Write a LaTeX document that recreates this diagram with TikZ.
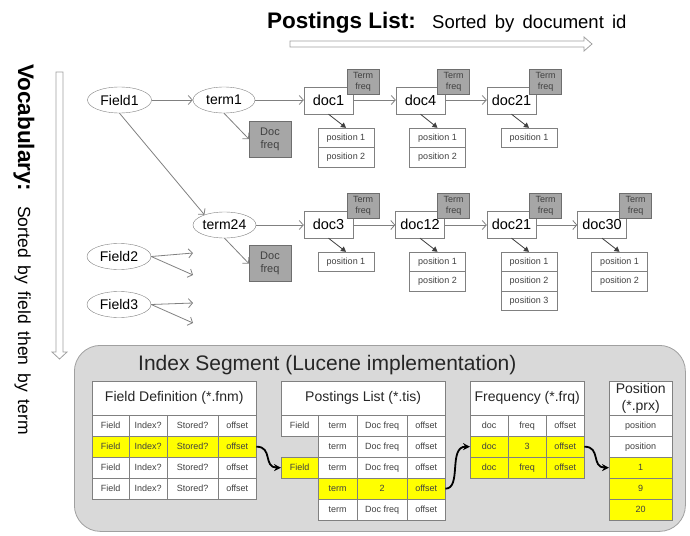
\documentclass[tikz,border=0pt]{standalone}
\usepackage{fontspec}
\setmainfont{Liberation Sans}
\newfontfamily\widefontA[WordSpace=1.1]{Liberation Sans}
\newfontfamily\widefontB[WordSpace=1.6]{Liberation Sans}
\usetikzlibrary{arrows.meta,shapes.geometric}
\definecolor{lgray}{HTML}{808080}
\definecolor{dgray}{HTML}{6E6E6E}
\definecolor{boxgray}{HTML}{A6A6A6}
\definecolor{tgray}{HTML}{404040}
\definecolor{seggray}{HTML}{D9D9D9}
\definecolor{segline}{HTML}{A0A0A0}
\definecolor{hiyellow}{HTML}{FFFF00}
\tikzset{
  ell/.style={ellipse, draw=lgray, fill=white, minimum width=64pt, minimum height=26pt, inner sep=0pt, font=\fontsize{14}{16}\selectfont},
  docbox/.style={rectangle, draw=lgray, fill=white, minimum width=49pt, minimum height=27pt, inner sep=0pt, font=\fontsize{14.5}{16}\selectfont},
  tfbox/.style={rectangle, draw=dgray, fill=boxgray, minimum width=32pt, minimum height=25pt, inner sep=0pt, align=center, font=\fontsize{9}{11}\selectfont, text=tgray},
  dfbox/.style={rectangle, draw=dgray, fill=boxgray, minimum width=42pt, minimum height=36pt, inner sep=0pt, align=center, font=\fontsize{11}{13}\selectfont, text=tgray},
  posbox/.style={rectangle, draw=lgray, fill=white, minimum width=56pt, minimum height=19.5pt, inner sep=0pt, font=\fontsize{9}{10}\selectfont, text=tgray},
  link/.style={draw=lgray, line width=0.8pt, -{Straight Barb[length=4pt,width=9pt]}},
  plink/.style={draw=tgray, line width=0.8pt, -{Triangle[length=5pt,width=5.5pt]}},
  cell/.style={rectangle, draw=lgray, fill=white, anchor=north west, inner sep=0pt, font=\fontsize{9}{10}\selectfont, text=tgray},
  headcell/.style={cell, font=\fontsize{14}{17}\selectfont, text=black!85, align=center},
  hi/.style={fill=hiyellow},
  bigarrow/.style={draw=segline, fill=white, line width=0.8pt},
  curvearrow/.style={draw=black, line width=1.8pt, -{Stealth[length=7pt,width=7pt]}}
}
\newcommand\tabcell[7]{\node[cell,minimum width=#4pt,minimum height=#5pt,#6] (#1) at (#2,#3) {#7};}
\begin{document}
\begin{tikzpicture}[x=1pt,y=-1pt]
\useasboundingbox (0,0) rectangle (690,535);

% titles
\node[anchor=base west, inner sep=0pt, font=\fontsize{22.5}{26}\selectfont\bfseries] (ptitle) at (267,29) {Postings List:};
\node[anchor=base west, inner sep=0pt, font=\widefontA\fontsize{18.5}{22}\selectfont] (psub) at (432,29) {Sorted by document id};
\draw[bigarrow] (290,41) -- (584,41) -- (584,37) -- (592,44) -- (584,51) -- (584,47) -- (290,47) -- cycle;

\node[rotate=-90, anchor=base west, inner sep=0pt, font=\fontsize{22.5}{26}\selectfont\bfseries] (vtitle) at (18,64) {Vocabulary:};
\node[rotate=-90, anchor=base west, inner sep=0pt, font=\widefontB\fontsize{17.5}{20}\selectfont] (vsub) at (18,206) {Sorted by field then by term};
\draw[bigarrow] (56,72) -- (63,72) -- (63,352) -- (67,352) -- (59.5,359) -- (52,352) -- (56,352) -- cycle;

% row 1
\node[ell] (field1) at (119.5,100) {Field1};
\node[ell, minimum width=62pt] (term1) at (224,100) {term1};
\node[dfbox] (df1) at (270,139) {Doc\\freq};
\node[docbox] (doc1) at (328.5,100.5) {doc1};
\node[tfbox] (tf1) at (363,81.5) {Term\\freq};
\node[docbox] (doc4) at (420.5,100.5) {doc4};
\node[tfbox] (tf4) at (453.5,81.5) {Term\\freq};
\node[docbox] (doc21a) at (511.5,100.5) {doc21};
\node[tfbox] (tf21a) at (545.5,81.5) {Term\\freq};

\node[posbox] (p11) at (346,137.75) {position 1};
\node[posbox] (p12) at (346,157.25) {position 2};
\node[posbox] (p41) at (437.5,137.75) {position 1};
\node[posbox] (p42) at (437.5,157.25) {position 2};
\node[posbox] (p211) at (529,137.75) {position 1};

% row 2
\node[ell, minimum width=63pt] (term24) at (224.5,225) {term24};
\node[dfbox] (df24) at (270,263.5) {Doc\\freq};
\node[docbox] (doc3) at (328.5,224.5) {doc3};
\node[tfbox] (tf3) at (363,205.5) {Term\\freq};
\node[docbox] (doc12) at (420,224.5) {doc12};
\node[tfbox] (tf12) at (453.5,205.5) {Term\\freq};
\node[docbox] (doc21b) at (511.5,224.5) {doc21};
\node[tfbox] (tf21b) at (545.5,205.5) {Term\\freq};
\node[docbox] (doc30) at (602,224.5) {doc30};
\node[tfbox] (tf30) at (635.5,205.5) {Term\\freq};

\node[posbox] (p31) at (346,261.75) {position 1};
\node[posbox] (p121) at (437.5,261.75) {position 1};
\node[posbox] (p122) at (437.5,281.25) {position 2};
\node[posbox] (p2121) at (529,261.75) {position 1};
\node[posbox] (p2122) at (529,281.25) {position 2};
\node[posbox] (p2123) at (529,300.75) {position 3};
\node[posbox] (p301) at (619.5,261.75) {position 1};
\node[posbox] (p302) at (619.5,281.25) {position 2};

\node[ell] (field2) at (119,256.5) {Field2};
\node[ell] (field3) at (119,304.5) {Field3};
\coordinate (f2a) at (193,253);
\coordinate (f2b) at (193,275);
\coordinate (f3a) at (193,303);
\coordinate (f3b) at (193,323);

% connectors
\draw[link] (field1) -- (term1);
\draw[link] (field1.south) -- (term24.153);
\draw[link] (term1.south) -- (df1.west);
\draw[link] (term1) -- (doc1.west |- term1);
\draw[link] (doc1.east |- term1) -- (doc4.west |- term1);
\draw[link] (doc4.east |- term1) -- (doc21a.west |- term1);
\draw[link] (term24.south) -- (df24.west);
\draw[link] (term24) -- (doc3.west |- term24);
\draw[link] (doc3.east |- term24) -- (doc12.west |- term24);
\draw[link] (doc12.east |- term24) -- (doc21b.west |- term24);
\draw[link] (doc21b.east |- term24) -- (doc30.west |- term24);
\draw[link] (field2.east) -- (f2a);
\draw[link] (field2.east) -- (f2b);
\draw[link] (field3.east) -- (f3a);
\draw[link] (field3.east) -- (f3b);

\draw[plink] (doc1.south) -- (p11.north);
\draw[plink] (doc4.south) -- (p41.north);
\draw[plink] (doc21a.south) -- (p211.north);
\draw[plink] (doc3.south) -- (p31.north);
\draw[plink] (doc12.south) -- (p121.north);
\draw[plink] (doc21b.south) -- (p2121.north);
\draw[plink] (doc30.south) -- (p301.north);

% index segment
\node[draw=segline, fill=seggray, rounded corners=26pt, line width=0.8pt, anchor=north west, minimum width=611pt, minimum height=186pt, inner sep=0pt] (seg) at (74,345) {};
\node[anchor=base west, inner sep=0pt, font=\fontsize{21}{24}\selectfont, text=black!85] (segtitle) at (138,370) {Index Segment (Lucene implementation)};

% Field definition table
\node[headcell, minimum width=164pt, minimum height=34pt] (fdh) at (92,381) {Field Definition (*.fnm)};
\tabcell{fd11}{92}{415}{37}{21}{}{Field}
\tabcell{fd12}{129}{415}{38}{21}{}{Index?}
\tabcell{fd13}{167}{415}{51}{21}{}{Stored?}
\tabcell{fd14}{218}{415}{38}{21}{}{offset}
\tabcell{fd21}{92}{436}{37}{21}{hi}{Field}
\tabcell{fd22}{129}{436}{38}{21}{hi}{Index?}
\tabcell{fd23}{167}{436}{51}{21}{hi}{Stored?}
\tabcell{fd24}{218}{436}{38}{21}{hi}{offset}
\tabcell{fd31}{92}{457}{37}{21}{}{Field}
\tabcell{fd32}{129}{457}{38}{21}{}{Index?}
\tabcell{fd33}{167}{457}{51}{21}{}{Stored?}
\tabcell{fd34}{218}{457}{38}{21}{}{offset}
\tabcell{fd41}{92}{478}{37}{21}{}{Field}
\tabcell{fd42}{129}{478}{38}{21}{}{Index?}
\tabcell{fd43}{167}{478}{51}{21}{}{Stored?}
\tabcell{fd44}{218}{478}{38}{21}{}{offset}

% Postings list table
\node[headcell, minimum width=164pt, minimum height=34pt] (plh) at (281,381) {Postings List (*.tis)};
\tabcell{pl11}{281}{415}{37}{21}{}{Field}
\tabcell{pl12}{318}{415}{39}{21}{}{term}
\tabcell{pl13}{357}{415}{50}{21}{}{Doc freq}
\tabcell{pl14}{407}{415}{38}{21}{}{offset}
\tabcell{pl22}{318}{436}{39}{21}{}{term}
\tabcell{pl23}{357}{436}{50}{21}{}{Doc freq}
\tabcell{pl24}{407}{436}{38}{21}{}{offset}
\tabcell{pl31}{281}{457}{37}{21}{hi}{Field}
\tabcell{pl32}{318}{457}{39}{21}{}{term}
\tabcell{pl33}{357}{457}{50}{21}{}{Doc freq}
\tabcell{pl34}{407}{457}{38}{21}{}{offset}
\tabcell{pl42}{318}{478}{39}{21}{hi}{term}
\tabcell{pl43}{357}{478}{50}{21}{hi}{2}
\tabcell{pl44}{407}{478}{38}{21}{hi}{offset}
\tabcell{pl52}{318}{499}{39}{21}{}{term}
\tabcell{pl53}{357}{499}{50}{21}{}{Doc freq}
\tabcell{pl54}{407}{499}{38}{21}{}{offset}

% Frequency table
\node[headcell, minimum width=114pt, minimum height=34pt] (frh) at (470,381) {Frequency (*.frq)};
\tabcell{fr11}{470}{415}{38}{21}{}{doc}
\tabcell{fr12}{508}{415}{38}{21}{}{freq}
\tabcell{fr13}{546}{415}{38}{21}{}{offset}
\tabcell{fr21}{470}{436}{38}{21}{hi}{doc}
\tabcell{fr22}{508}{436}{38}{21}{hi}{3}
\tabcell{fr23}{546}{436}{38}{21}{hi}{offset}
\tabcell{fr31}{470}{457}{38}{21}{hi}{doc}
\tabcell{fr32}{508}{457}{38}{21}{hi}{freq}
\tabcell{fr33}{546}{457}{38}{21}{hi}{offset}

% Position table
\node[headcell, minimum width=63pt, minimum height=34pt] (poh) at (609,381) {Position\\(*.prx)};
\tabcell{po1}{609}{415}{63}{21}{}{position}
\tabcell{po2}{609}{436}{63}{21}{}{position}
\tabcell{po3}{609}{457}{63}{21}{hi}{1}
\tabcell{po4}{609}{478}{63}{21}{hi}{9}
\tabcell{po5}{609}{499}{63}{21}{hi}{20}

% curved arrows
\draw[curvearrow] (fd24.east) .. controls (273,446.5) and (263,467.5) .. (pl31.west);
\draw[curvearrow] (pl44.east) .. controls (462,488.5) and (448,446.5) .. (fr21.west);
\draw[curvearrow] (fr23.east) .. controls (601,446.5) and (591,467.5) .. (po3.west);
\end{tikzpicture}
\end{document}
